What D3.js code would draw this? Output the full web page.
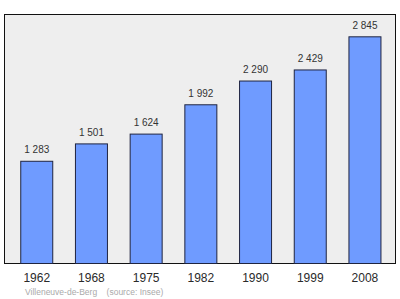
<!DOCTYPE html>
<html>
  <head>
    <script src="https://d3js.org/d3.v7.min.js"></script>
    <style>
      body { margin: 0; background: white; }
      text { font-family: "Liberation Sans", Arial, sans-serif; }
    </style>
  </head>
  <body>
    <script>
      const years = ['1962', '1968', '1975', '1982', '1990', '1999', '2008'];
      const population = [1283, 1501, 1624, 1992, 2290, 2429, 2845];
      const town = 'Villeneuve-de-Berg';
      const source = '(source: Insee)';

      const w = 400;
      const h = 299;
      const frame = { left: 4.5, top: 14.5, right: 395.5, bottom: 263.5 };

      const fmt = v => d3.format(',')(v).replace(/,/g, ' ');

      const svg = d3.select('body')
                    .append('svg')
                    .attr('width', w)
                    .attr('height', h);

      const x = d3.scaleBand()
                  .domain(years)
                  .range([9.4, 392.3])
                  .paddingInner(0.415)
                  .paddingOuter(0.2075);

      const y = d3.scaleLinear()
                  .domain([0, 3125])
                  .range([frame.bottom, frame.top]);

      svg.append('rect')
         .attr('x', frame.left)
         .attr('y', frame.top)
         .attr('width', frame.right - frame.left)
         .attr('height', frame.bottom - frame.top)
         .style('fill', '#eeeeee')
         .style('stroke', '#111')
         .style('stroke-width', 1);

      svg.selectAll('rect.bar')
         .data(population)
         .enter()
         .append('rect')
         .attr('class', 'bar')
         .attr('x', (d, i) => x(years[i]))
         .attr('y', d => y(d))
         .attr('width', x.bandwidth())
         .attr('height', d => y(0) - y(d))
         .style('fill', '#6f9bff')
         .style('stroke', '#1f2440')
         .style('stroke-width', 1);

      svg.selectAll('text.value')
         .data(population)
         .enter()
         .append('text')
         .attr('class', 'value')
         .attr('x', (d, i) => x(years[i]) + x.bandwidth() / 2)
         .attr('y', d => y(d) - 8)
         .attr('text-anchor', 'middle')
         .style('font-size', '10px')
         .style('fill', '#333')
         .text(d => fmt(d));

      svg.selectAll('text.year')
         .data(years)
         .enter()
         .append('text')
         .attr('class', 'year')
         .attr('x', d => x(d) + x.bandwidth() / 2)
         .attr('y', 282)
         .attr('text-anchor', 'middle')
         .style('font-size', '12px')
         .style('fill', '#2a2a2a')
         .text(d => d);

      svg.append('text')
         .attr('x', 25)
         .attr('y', 295)
         .style('font-size', '8.5px')
         .style('fill', '#aaaaaa')
         .style('white-space', 'pre')
         .text(town + '    ' + source);
    </script>
  </body>
</html>
